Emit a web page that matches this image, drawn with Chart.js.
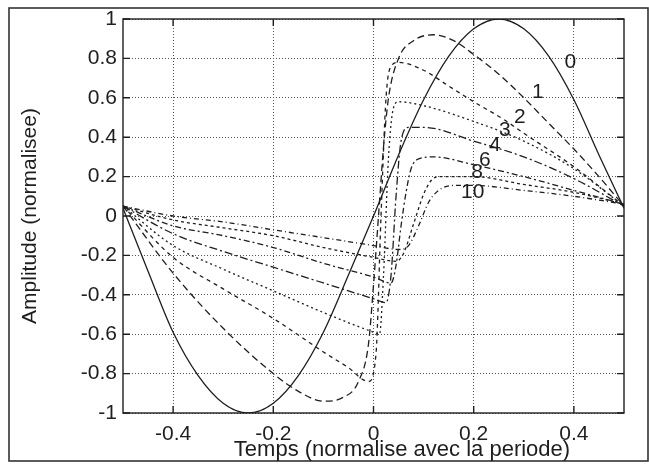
<!DOCTYPE html>
<html>
<head>
<meta charset="utf-8">
<script src="https://cdn.jsdelivr.net/npm/chart.js@4.4.1/dist/chart.umd.min.js"></script>
<style>
  html, body { margin: 0; padding: 0; background: #fff; }
  #wrap { width: 649px; height: 466px; }
</style>
</head>
<body>
<div id="wrap"><canvas id="chart"></canvas></div>
<script>
// time (normalised with the period) and amplitude for each curve
const t0 = [-0.5, -0.45, -0.4, -0.35, -0.3, -0.25, -0.2, -0.15, -0.1, -0.05, 0, 0.05, 0.1, 0.15, 0.2, 0.25, 0.3, 0.35, 0.4, 0.45, 0.5];
const a0 = [0.04, -0.28, -0.59, -0.81, -0.95, -1.0, -0.95, -0.81, -0.59, -0.3, 0.0, 0.31, 0.59, 0.81, 0.95, 1.0, 0.95, 0.81, 0.59, 0.31, 0.04];

const t1 = [-0.5, -0.4, -0.3, -0.2, -0.15, -0.1, -0.06, -0.03, -0.01, 0.0, 0.01, 0.02, 0.03, 0.05, 0.08, 0.12, 0.16, 0.2, 0.25, 0.3, 0.35, 0.4, 0.45, 0.5];
const a1 = [0.05, -0.29, -0.57, -0.8, -0.89, -0.94, -0.92, -0.84, -0.65, -0.35, 0.0, 0.35, 0.6, 0.8, 0.89, 0.92, 0.89, 0.82, 0.72, 0.6, 0.47, 0.34, 0.2, 0.05];

const t2 = [-0.5, -0.4, -0.3, -0.2, -0.1, -0.05, -0.01, 0.005, 0.015, 0.025, 0.035, 0.05, 0.1, 0.15, 0.2, 0.26, 0.3, 0.4, 0.5];
const a2 = [0.05, -0.21, -0.37, -0.52, -0.69, -0.77, -0.84, -0.7, 0.0, 0.6, 0.76, 0.78, 0.74, 0.66, 0.58, 0.49, 0.42, 0.25, 0.05];

const t3 = [-0.5, -0.4, -0.3, -0.2, -0.1, 0.0, 0.012, 0.02, 0.03, 0.04, 0.05, 0.1, 0.2, 0.3, 0.4, 0.5];
const a3 = [0.05, -0.15, -0.27, -0.38, -0.49, -0.59, -0.6, -0.3, 0.3, 0.55, 0.58, 0.56, 0.48, 0.38, 0.24, 0.05];

const t4 = [-0.5, -0.4, -0.3, -0.2, -0.1, 0.0, 0.025, 0.035, 0.045, 0.055, 0.07, 0.1, 0.2, 0.3, 0.4, 0.5];
const a4 = [0.05, -0.09, -0.18, -0.26, -0.34, -0.42, -0.44, -0.3, 0.1, 0.38, 0.45, 0.45, 0.38, 0.3, 0.19, 0.05];

const t6 = [-0.5, -0.4, -0.3, -0.2, -0.1, 0.0, 0.035, 0.045, 0.055, 0.065, 0.075, 0.09, 0.12, 0.2, 0.3, 0.4, 0.5];
const a6 = [0.05, -0.05, -0.1, -0.16, -0.24, -0.31, -0.34, -0.25, -0.05, 0.12, 0.24, 0.29, 0.3, 0.26, 0.2, 0.13, 0.06];

const t8 = [-0.5, -0.4, -0.3, -0.2, -0.1, 0.0, 0.045, 0.06, 0.08, 0.1, 0.115, 0.13, 0.2, 0.3, 0.4, 0.5];
const a8 = [0.05, -0.02, -0.06, -0.1, -0.16, -0.21, -0.23, -0.19, -0.04, 0.11, 0.18, 0.2, 0.2, 0.16, 0.12, 0.06];

const t10 = [-0.5, -0.4, -0.3, -0.2, -0.1, 0.0, 0.05, 0.07, 0.09, 0.11, 0.13, 0.16, 0.2, 0.3, 0.4, 0.5];
const a10 = [0.05, 0.0, -0.03, -0.07, -0.11, -0.15, -0.17, -0.15, -0.05, 0.07, 0.13, 0.155, 0.155, 0.13, 0.1, 0.06];

// curve numbers written on the plot, with where they sit
const curveLabels = ['0', '1', '2', '3', '4', '6', '8', '10'];
const labelT = [0.393, 0.328, 0.292, 0.262, 0.242, 0.222, 0.207, 0.198];
const labelA = [0.78, 0.63, 0.50, 0.435, 0.36, 0.285, 0.22, 0.12];

const xTicks = [-0.4, -0.2, 0, 0.2, 0.4];
const yTicks = [-1, -0.8, -0.6, -0.4, -0.2, 0, 0.2, 0.4, 0.6, 0.8, 1];

const xTitle = 'Temps (normalise avec la periode)';
const yTitle = 'Amplitude (normalisee)';

const FONT = '"Liberation Sans", Arial, Helvetica, sans-serif';
const INK = '#1e1e1e';

function pts(t, a) {
  return t.map((v, i) => ({ x: v, y: a[i] }));
}

function curve(t, a, dash) {
  return {
    data: pts(t, a),
    showLine: true,
    borderColor: INK,
    borderWidth: 1.3,
    borderDash: dash,
    pointRadius: 0,
    cubicInterpolationMode: 'monotone',
    fill: false
  };
}

const frame = {
  id: 'frame',
  beforeDraw(chart) {
    const { ctx } = chart;
    ctx.save();
    ctx.fillStyle = '#fff';
    ctx.fillRect(0, 0, chart.width, chart.height);
    ctx.restore();
  },
  afterDraw(chart) {
    const { ctx, chartArea: ca, scales } = chart;
    ctx.save();
    // outer frame of the figure
    ctx.strokeStyle = '#333';
    ctx.lineWidth = 1.6;
    ctx.strokeRect(9, 8, 639, 453);

    // plot box and inward ticks
    ctx.strokeStyle = INK;
    ctx.lineWidth = 1.4;
    ctx.strokeRect(ca.left, ca.top, ca.right - ca.left, ca.bottom - ca.top);
    ctx.beginPath();
    xTicks.forEach((v) => {
      const px = scales.x.getPixelForValue(v);
      ctx.moveTo(px, ca.bottom); ctx.lineTo(px, ca.bottom - 7);
      ctx.moveTo(px, ca.top); ctx.lineTo(px, ca.top + 7);
    });
    yTicks.forEach((v) => {
      const py = scales.y.getPixelForValue(v);
      ctx.moveTo(ca.left, py); ctx.lineTo(ca.left + 7, py);
      ctx.moveTo(ca.right, py); ctx.lineTo(ca.right - 7, py);
    });
    ctx.stroke();

    // curve numbers
    ctx.fillStyle = INK;
    ctx.font = '21px ' + FONT;
    ctx.textAlign = 'center';
    ctx.textBaseline = 'middle';
    curveLabels.forEach((s, i) => {
      ctx.fillText(s, scales.x.getPixelForValue(labelT[i]), scales.y.getPixelForValue(labelA[i]));
    });

    // x axis title, set right of centre as in the original
    ctx.font = '22px ' + FONT;
    ctx.fillText(xTitle, 402, 450);
    ctx.restore();
  }
};

new Chart(document.getElementById('chart'), {
  type: 'scatter',
  data: {
    datasets: [
      curve(t0, a0, []),
      curve(t1, a1, [7, 4]),
      curve(t2, a2, [4, 4]),
      curve(t3, a3, [2, 3]),
      curve(t4, a4, [8, 3, 2, 3]),
      curve(t6, a6, [6, 3, 2, 3]),
      curve(t8, a8, [3, 3]),
      curve(t10, a10, [5, 3, 1, 3])
    ]
  },
  plugins: [frame],
  options: {
    responsive: true,
    maintainAspectRatio: false,
    animation: false,
    layout: { padding: { left: 9, top: 19, right: 25, bottom: 0 } },
    plugins: {
      legend: { display: false },
      tooltip: { enabled: false }
    },
    scales: {
      x: {
        type: 'linear',
        min: -0.5,
        max: 0.5,
        afterFit: (s) => { s.height = 53; },
        afterBuildTicks: (s) => { s.ticks = xTicks.map((v) => ({ value: v })); },
        grid: { color: '#555', lineWidth: 1, drawTicks: false },
        border: { display: false, dash: [1, 2] },
        ticks: {
          color: INK,
          padding: 9,
          font: { family: FONT, size: 21 },
          callback: (v) => String(Math.round(v * 10) / 10)
        }
      },
      y: {
        type: 'linear',
        min: -1,
        max: 1,
        afterFit: (s) => { s.width = 114; },
        afterBuildTicks: (s) => { s.ticks = yTicks.map((v) => ({ value: v })); },
        grid: { color: '#555', lineWidth: 1, drawTicks: false },
        border: { display: false, dash: [1, 2] },
        ticks: {
          color: INK,
          padding: 6,
          font: { family: FONT, size: 21 },
          callback: (v) => String(Math.round(v * 10) / 10)
        },
        title: {
          display: true,
          text: yTitle,
          color: INK,
          font: { family: FONT, size: 21 },
          padding: { top: 9, bottom: 0 }
        }
      }
    }
  }
});
</script>
</body>
</html>
